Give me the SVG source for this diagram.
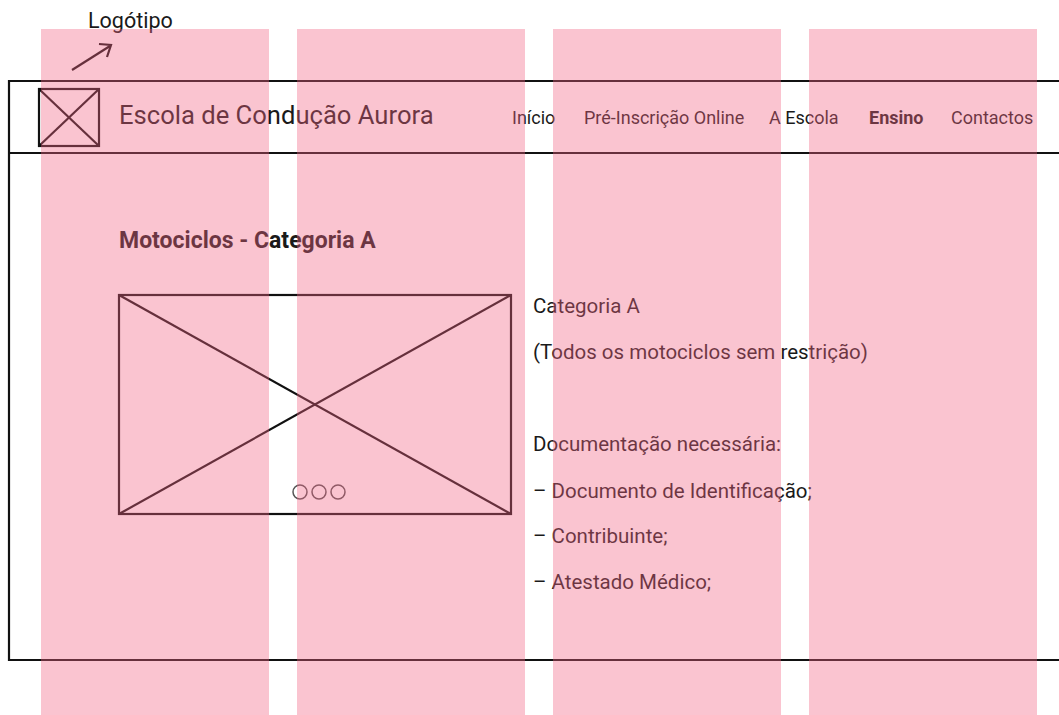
<svg xmlns="http://www.w3.org/2000/svg" width="1059" height="715" viewBox="0 0 1059 715">
  <style>
    .ln { fill: none; stroke: #111; stroke-width: 2.2; }
    .t { font-family: Roboto, "Liberation Sans", sans-serif; fill: #1a1a1a; }
    .nav { font-size: 18px; }
    .body { font-size: 20.5px; }
    .col { fill: rgb(242,100,132); fill-opacity: 0.38; }
  </style>
  <rect x="0" y="0" width="1059" height="715" fill="#ffffff"/>
  <g id="frame">
    <path class="ln" d="M1060 81 H9 V660 H1060"/>
    <line class="ln" x1="9" y1="153" x2="1060" y2="153"/>
  </g>
  <g id="logo">
    <rect class="ln" x="39" y="89" width="60" height="57"/>
    <line class="ln" x1="39" y1="89" x2="99" y2="146"/>
    <line class="ln" x1="99" y1="89" x2="39" y2="146"/>
  </g>
  <g id="logo-label">
    <text class="t" x="88" y="28" font-size="21.5">Logótipo</text>
  </g>
  <g id="title">
    <text class="t" x="119" y="124" font-size="25.6">Escola de Condução Aurora</text>
  </g>
  <g id="nav">
    <text class="t nav" x="512" y="124">Início</text>
    <text class="t nav" x="584" y="124">Pré-Inscrição Online</text>
    <text class="t nav" x="769" y="124">A Escola</text>
    <text class="t nav" x="869" y="124" font-weight="bold">Ensino</text>
    <text class="t nav" x="951" y="124">Contactos</text>
  </g>
  <g id="heading">
    <text class="t" x="119" y="248" font-size="23" font-weight="bold">Motociclos - Categoria A</text>
  </g>
  <g id="image">
    <rect class="ln" x="119" y="295" width="392" height="219"/>
    <line class="ln" x1="119" y1="295" x2="511" y2="514"/>
    <line class="ln" x1="511" y1="295" x2="119" y2="514"/>
    <circle cx="300" cy="492" r="7" fill="none" stroke="#555" stroke-width="1.5"/>
    <circle cx="319" cy="492" r="7" fill="none" stroke="#555" stroke-width="1.5"/>
    <circle cx="338" cy="492" r="7" fill="none" stroke="#555" stroke-width="1.5"/>
  </g>
  <g id="details">
    <text class="t body" x="533" y="313">Categoria A</text>
    <text class="t body" x="533" y="359">(Todos os motociclos sem restrição)</text>
    <text class="t body" x="533" y="451">Documentação necessária:</text>
    <text class="t body" x="533" y="498">– Documento de Identificação;</text>
    <text class="t body" x="533" y="543">– Contribuinte;</text>
    <text class="t body" x="533" y="589">– Atestado Médico;</text>
  </g>
  <g id="connectors">
    <line class="ln" x1="72" y1="70" x2="110" y2="46"/>
    <path class="ln" d="M99 44 L111 45 L107 57"/>
  </g>
  <g id="grid-columns">
    <rect class="col" x="41" y="29" width="228" height="686"/>
    <rect class="col" x="297" y="29" width="228" height="686"/>
    <rect class="col" x="553" y="29" width="228" height="686"/>
    <rect class="col" x="809" y="29" width="228" height="686"/>
  </g>
</svg>
